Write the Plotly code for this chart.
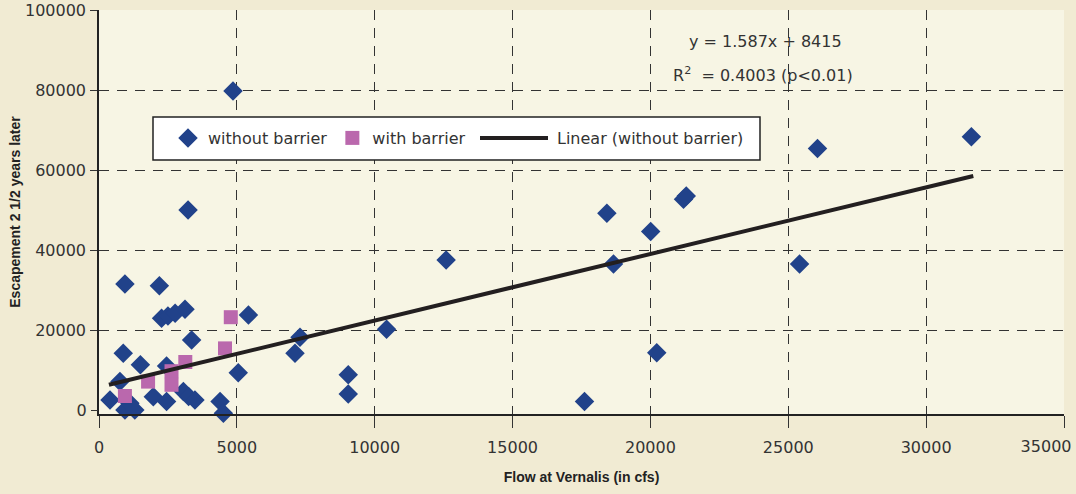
import plotly.graph_objects as go

# Blue diamonds: without barrier
flow_without = [4860, 3230, 940, 2190, 2270, 2500, 2760, 3120, 3360, 5420,
                880, 1500, 2450, 760, 5050, 7110, 7290, 9040, 9040, 10430,
                12590, 17610, 18420, 18660, 20010, 20230, 21200, 21300, 25410, 26060,
                31640, 400, 460, 940, 1120, 1300, 1970, 1970, 2450, 3060,
                3250, 3480, 4390, 4510]
esc_without = [79750, 50000, 31500, 31080, 22920, 23500, 24170, 25200, 17500, 23750,
               14200, 11300, 11000, 7100, 9300, 14200, 18200, 8800, 4000, 20200,
               37500, 2100, 49200, 36500, 44600, 14300, 52700, 53500, 36500, 65400,
               68300, 2500, -1800, 0, 1700, 0, 3300, -1200, 2100, 4600,
               3400, 2500, 2100, -800]

# Purple squares: with barrier
flow_with = [4780, 4570, 3130, 2630, 2630, 1780, 940]
esc_with = [23200, 15400, 12000, 9700, 6300, 7100, 3500]

# Linear trend (without barrier), endpoints
trend_x = [360, 31710]
trend_y = [6300, 58500]
trend_name = "Linear (without barrier)"

x_ticks = [0, 5000, 10000, 15000, 20000, 25000, 30000, 35000]
x_labels = ["0", "5000", "10000", "15000", "20000", "25000", "30000", ""]
x_last_tick = [35000]
x_last_label = ["35000"]
y_ticks = [20000, 40000, 60000, 80000, 100000]
y_labels = ["20000", "40000", "60000", "80000", "100000"]
y_zero_tick = [0]
y_zero_label = ["0"]

eq_text = "y = 1.587x + 8415"
r2_text = "R<sup>2</sup>  = 0.4003 (p&lt;0.01)"

FONT = "DejaVu Sans"
TXT = "#333333"
BG = "#F1EBD3"
LINE_C = "#231F20"
Y_RANGE = [-1000, 100000]
X_RANGE = [0, 35000]


def px_x(p):
    return (p - 99) / 965


def px_y(p):
    return (414 - p) / 404


fig = go.Figure()
fig.add_trace(go.Scatter(
    x=flow_without, y=esc_without, mode="markers", name="without barrier",
    marker=dict(symbol="diamond", size=15, color="#21428A", line=dict(width=0)),
    cliponaxis=False))
fig.add_trace(go.Scatter(
    x=flow_with, y=esc_with, mode="markers", name="with barrier", yaxis="y2",
    marker=dict(symbol="square", size=14, color="#BA68AD", line=dict(width=0)),
    cliponaxis=False))
fig.add_trace(go.Scatter(
    x=trend_x, y=trend_y, mode="lines", name=trend_name, xaxis="x2",
    showlegend=False, line=dict(color=LINE_C, width=4)))

# legend box
fig.add_shape(type="rect", xref="paper", yref="paper",
              x0=px_x(153), x1=px_x(760), y0=px_y(160), y1=px_y(117),
              fillcolor="white", line=dict(color="#222222", width=1.5), layer="above")
# legend key for the trend line
fig.add_shape(type="line", xref="paper", yref="paper",
              x0=px_x(480), x1=px_x(548), y0=px_y(138), y1=px_y(138),
              line=dict(color=LINE_C, width=4), layer="above")
fig.add_annotation(text=trend_name, xref="paper", yref="paper",
                   x=px_x(555), y=px_y(138), showarrow=False,
                   xanchor="left", yanchor="middle",
                   font=dict(family=FONT, size=16, color=TXT))

fig.add_annotation(text=eq_text, xref="paper", yref="paper",
                   x=px_x(765), y=px_y(42), showarrow=False,
                   xanchor="center", yanchor="middle",
                   font=dict(family=FONT, size=16, color=TXT))
fig.add_annotation(text=r2_text, xref="paper", yref="paper",
                   x=px_x(763), y=px_y(74), showarrow=False,
                   xanchor="center", yanchor="middle",
                   font=dict(family=FONT, size=16, color=TXT))

fig.update_layout(
    width=1076, height=494, autosize=False,
    margin=dict(l=99, r=12, t=10, b=80),
    paper_bgcolor=BG, plot_bgcolor="#F7F5E4",
    showlegend=True,
    legend=dict(orientation="h", x=px_x(168), y=px_y(138),
                xanchor="left", yanchor="middle",
                bgcolor="rgba(0,0,0,0)", borderwidth=0,
                font=dict(family=FONT, size=16, color=TXT)),
    xaxis=dict(range=X_RANGE, tickvals=x_ticks, ticktext=x_labels,
               automargin=False, ticklabeloverflow="allow",
               showgrid=True, gridcolor="#333333", griddash="10px,8px", gridwidth=1,
               zeroline=False, showline=True, linecolor="#222222", linewidth=1.5,
               ticks="outside", ticklen=12, tickcolor="#333333", ticklabelstandoff=6,
               tickfont=dict(family=FONT, size=16, color=TXT),
               title=dict(text="<b>Flow at Vernalis (in cfs)</b>", standoff=16,
                          font=dict(family="Liberation Sans", size=14, color="#222222"))),
    xaxis2=dict(range=X_RANGE, overlaying="x", anchor="y", side="bottom",
                tickvals=x_last_tick, ticktext=x_last_label,
                ticklabelposition="outside left", ticklabelshift=8,
                automargin=False, ticks="outside", ticklen=12, tickcolor="rgba(0,0,0,0)",
                ticklabelstandoff=18,
                showgrid=False, zeroline=False, showline=False,
                tickfont=dict(family=FONT, size=16, color=TXT)),
    yaxis=dict(range=Y_RANGE, tickvals=y_ticks, ticktext=y_labels,
               automargin=False, ticklabeloverflow="allow",
               showgrid=True, gridcolor="#333333", griddash="10px,8px", gridwidth=1,
               zeroline=False, showline=True, linecolor="#222222", linewidth=1.5,
               ticks="outside", ticklen=7, tickcolor="#333333", ticklabelstandoff=1,
               tickfont=dict(family=FONT, size=16, color=TXT),
               title=dict(text="<b>Escapement 2 1/2 years later</b>", standoff=1,
                          font=dict(family="Liberation Sans", size=14, color="#222222"))),
    yaxis2=dict(range=Y_RANGE, overlaying="y", anchor="x", side="left",
                tickvals=y_zero_tick, ticktext=y_zero_label,
                automargin=False, ticks="outside", ticklen=7, tickcolor="#333333",
                ticklabelstandoff=1,
                showgrid=False, zeroline=False, showline=False,
                tickfont=dict(family=FONT, size=16, color=TXT)),
)

fig.write_html(
    "out.html",
    config={"displayModeBar": False},
    post_script="document.body.style.margin='0';document.body.style.background='%s';" % BG,
)
